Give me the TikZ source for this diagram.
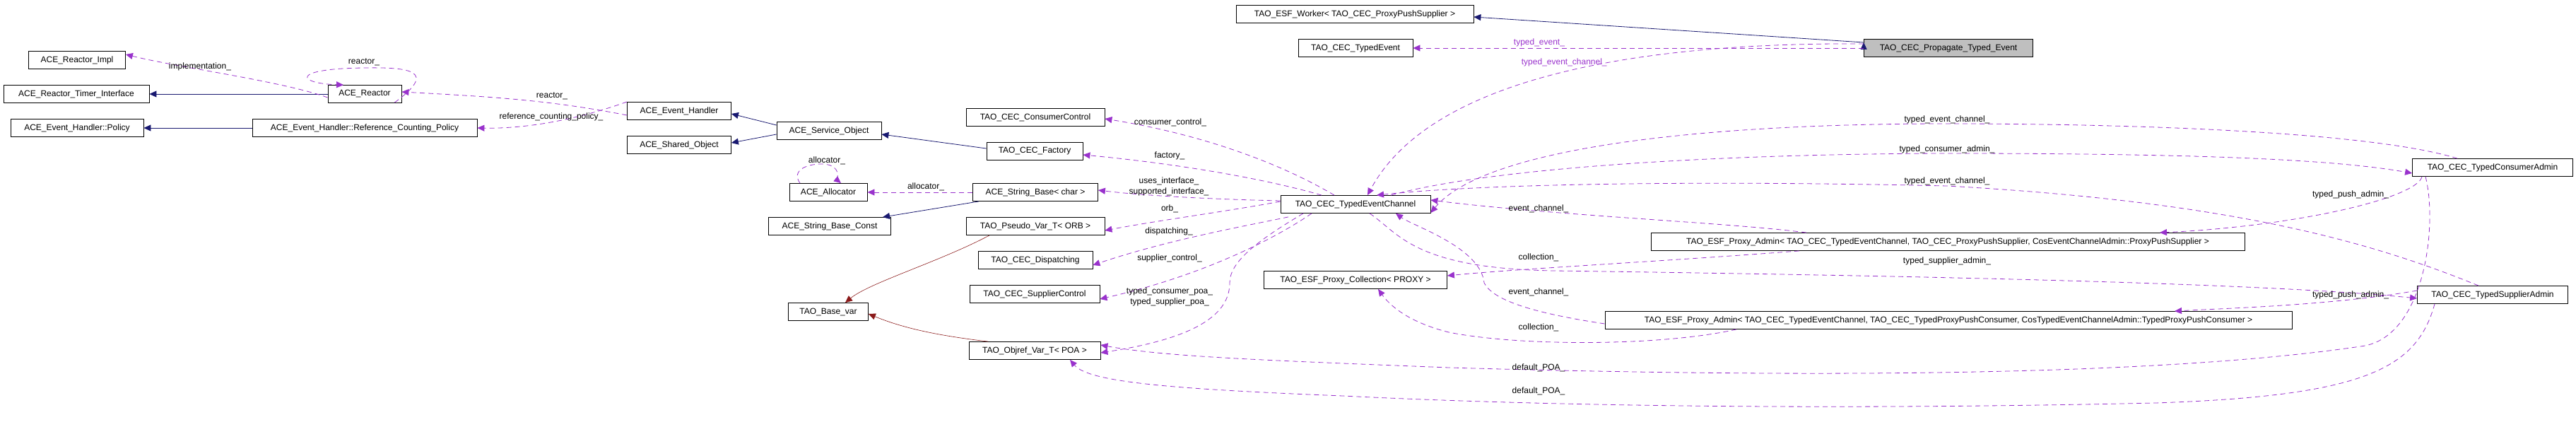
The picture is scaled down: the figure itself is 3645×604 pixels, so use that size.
\documentclass[tikz,border=0pt]{standalone}
\usepackage{fontspec}
\setmainfont{Liberation Sans}
\usetikzlibrary{arrows.meta}
\definecolor{navyc}{RGB}{25,25,112}
\definecolor{purc}{RGB}{153,50,204}
\definecolor{redc}{RGB}{139,26,26}
\begin{document}
\begin{tikzpicture}[x=1pt,y=-1pt,
  box/.style={draw,thick,inner sep=0pt,minimum height=25pt,font=\fontsize{12}{14}\selectfont},
  inh/.style={navyc,thick,-{Triangle[length=10pt,width=9pt]}},
  tmpl/.style={redc,semithick,-{Triangle[length=10pt,width=9pt]}},
  use/.style={purc,thick,dash pattern=on 7pt off 5pt,-{Triangle[length=10pt,width=9pt]}},
  lab/.style={font=\fontsize{12}{14}\selectfont,inner sep=1pt}]
\useasboundingbox (0,0) rectangle (3645,604);
% nodes
\node[box,minimum width=137pt] (impl) at (109,85) {ACE\_Reactor\_Impl};
\node[box,minimum width=206pt] (timer) at (108,133) {ACE\_Reactor\_Timer\_Interface};
\node[box,minimum width=188pt] (policy) at (109,181) {ACE\_Event\_Handler::Policy};
\node[box,minimum width=104pt] (reactor) at (516,133) {ACE\_Reactor};
\node[box,minimum width=318pt] (refc) at (516,181) {ACE\_Event\_Handler::Reference\_Counting\_Policy};
\node[box,minimum width=147pt] (evh) at (961,157) {ACE\_Event\_Handler};
\node[box,minimum width=147pt] (shared) at (961,205) {ACE\_Shared\_Object};
\node[box,minimum width=336pt] (worker) at (1917,20) {TAO\_ESF\_Worker< TAO\_CEC\_ProxyPushSupplier >};
\node[box,minimum width=162pt] (tev) at (1918,68) {TAO\_CEC\_TypedEvent};
\node[box,minimum width=239pt,fill={rgb,255:red,191;green,191;blue,191}] (prop) at (2757,68) {TAO\_CEC\_Propagate\_Typed\_Event};
\node[box,minimum width=148pt] (svc) at (1173,185) {ACE\_Service\_Object};
\node[box,minimum width=196pt] (cctl) at (1465,166) {TAO\_CEC\_ConsumerControl};
\node[box,minimum width=136pt] (fact) at (1464,214) {TAO\_CEC\_Factory};
\node[box,minimum width=110pt] (alloc) at (1172,272) {ACE\_Allocator};
\node[box,minimum width=177pt] (sb) at (1465,272) {ACE\_String\_Base< char >};
\node[box,minimum width=212pt] (tec) at (1918,289) {TAO\_CEC\_TypedEventChannel};
\node[box,minimum width=173pt] (sbc) at (1174,320) {ACE\_String\_Base\_Const};
\node[box,minimum width=196pt] (pseudo) at (1465,320) {TAO\_Pseudo\_Var\_T< ORB >};
\node[box,minimum width=162pt] (disp) at (1465,368) {TAO\_CEC\_Dispatching};
\node[box,minimum width=184pt] (sctl) at (1464,416) {TAO\_CEC\_SupplierControl};
\node[box,minimum width=113pt] (basevar) at (1172,441) {TAO\_Base\_var};
\node[box,minimum width=186pt] (objref) at (1464,496) {TAO\_Objref\_Var\_T< POA >};
\node[box,minimum width=259pt] (coll) at (1918,396) {TAO\_ESF\_Proxy\_Collection< PROXY >};
\node[box,minimum width=227pt] (cadm) at (3527,237) {TAO\_CEC\_TypedConsumerAdmin};
\node[box,minimum width=213pt] (sadm) at (3527,417) {TAO\_CEC\_TypedSupplierAdmin};
\node[box,minimum width=840pt] (pa1) at (2756,342) {TAO\_ESF\_Proxy\_Admin< TAO\_CEC\_TypedEventChannel, TAO\_CEC\_ProxyPushSupplier, CosEventChannelAdmin::ProxyPushSupplier >};
\node[box,minimum width=972pt] (pa2) at (2757,453) {TAO\_ESF\_Proxy\_Admin< TAO\_CEC\_TypedEventChannel, TAO\_CEC\_TypedProxyPushConsumer, CosTypedEventChannelAdmin::TypedProxyPushConsumer >};
% inheritance
\draw[inh] (prop.west) ++(0,-8) coordinate (p1);
\draw[inh] (p1) -- ([yshift=-4pt]worker.east);
\draw[inh] (reactor.west) -- (timer.east);
\draw[inh] (refc.west) -- (policy.east);
\draw[inh] ([yshift=8pt]svc.west) -- ([yshift=-4pt]evh.east);
\draw[inh] ([yshift=-5pt]svc.west) -- ([yshift=3pt]shared.east);
\draw[inh] ([yshift=4pt]fact.west) -- ([xshift=0pt,yshift=-5pt]svc.east);
\draw[inh] ([xshift=-80pt]sb.south) -- ([xshift=75pt]sbc.north);
% template
\draw[tmpl] ([xshift=-65pt]pseudo.south) .. controls (1330,370) and (1230,400) .. ([xshift=24pt]basevar.north);
\draw[tmpl] ([xshift=-66pt]objref.north) .. controls (1330,475) and (1280,465) .. ([yshift=-3pt]basevar.east);
% usage
\draw[use] (prop.west) -- (tev.east) node[lab,pos=0.72,above=1pt] {typed\_event\_};
\draw[use] ([yshift=6pt]prop.west) .. controls (2350,60) and (2030,100) .. ([xshift=17pt]tec.north) node[lab,pos=0.42,left=2pt] {typed\_event\_channel\_};
\node[lab] at (2177,99) {};
\draw[use] ([yshift=-5pt]reactor.west) .. controls (400,115) and (250,95) .. ([yshift=8pt]impl.east);
\node[lab] at (283,94) {implementation\_};
\draw[use] ([yshift=-12pt,xshift=-10pt]reactor.east) .. controls (620,100) and (580,95) .. (516,96) .. controls (410,97) and (420,118) .. ([xshift=-30pt]reactor.north);
\node[lab] at (515,88) {reactor\_};
\draw[use] ([yshift=-6pt]evh.west) .. controls (780,142) and (700,137) .. ([yshift=3pt]reactor.east);
\node[lab] at (781,136) {reactor\_};
\draw[use] ([yshift=13pt]evh.west) .. controls (800,175) and (730,182) .. (refc.east);
\node[lab] at (780,165) {reference\_counting\_policy\_};
\draw[use] ([xshift=-40pt]alloc.north) .. controls (1115,235) and (1160,228) .. (1175,234) .. controls (1190,240) and (1185,255) .. ([xshift=18pt]alloc.north);
\node[lab] at (1170,227) {allocator\_};
\draw[use] (sb.west) -- (alloc.east);
\node[lab] at (1310,264) {allocator\_};
\draw[use] ([xshift=-30pt]tec.north) .. controls (1810,230) and (1700,190) .. ([yshift=-2pt]cctl.east);
\node[lab] at (1656,173) {consumer\_control\_};
\draw[use] ([xshift=-48pt]tec.north) .. controls (1780,250) and (1650,230) .. ([yshift=-5pt]fact.east);
\node[lab] at (1655,220) {factory\_};
\draw[use] ([yshift=5pt]tec.west) .. controls (1720,282) and (1620,277) .. ([yshift=3pt]sb.east);
\node[lab] at (1654,256) {uses\_interface\_};
\node[lab] at (1654,271) {supported\_interface\_};
\draw[use] ([yshift=4pt]tec.west) .. controls (1730,300) and (1650,310) .. ([yshift=-6pt]pseudo.east);
\node[lab] at (1655,295) {orb\_};
\draw[use] ([xshift=-95pt,yshift=-5pt]tec.south) .. controls (1760,320) and (1650,340) .. ([yshift=-7pt]disp.east);
\node[lab] at (1654,327) {dispatching\_};
\draw[use] ([xshift=-62pt]tec.south) .. controls (1800,340) and (1700,390) .. ([yshift=-7pt]sctl.east);
\node[lab] at (1655,365) {supplier\_control\_};
\draw[use] ([xshift=-74pt]tec.south) .. controls (1780,340) and (1740,370) .. (1740,400) .. controls (1740,450) and (1680,480) .. ([yshift=-3pt]objref.east);
\node[lab] at (1655,412) {typed\_consumer\_poa\_};
\node[lab] at (1655,427) {typed\_supplier\_poa\_};
\draw[use] ([xshift=-95pt]cadm.south) .. controls (3450,320) and (3430,480) .. (3340,490) .. controls (3000,540) and (2400,530) .. (2050,520) .. controls (1800,510) and (1650,505) .. ([yshift=8pt]objref.east);
\node[lab] at (2177,520) {default\_POA\_};
\draw[use] ([xshift=-82pt]sadm.south) .. controls (3420,520) and (3350,560) .. (3050,570) .. controls (2600,580) and (2200,575) .. (1900,560) .. controls (1650,550) and (1540,540) .. ([xshift=50pt]objref.south);
\node[lab] at (2177,553) {default\_POA\_};
\draw[use] ([xshift=-50pt]cadm.north) .. controls (3350,185) and (3000,175) .. (2755,175) .. controls (2400,175) and (2100,210) .. ([yshift=-12pt]tec.east);
\node[lab] at (2755,169) {typed\_event\_channel\_};
\draw[use] ([xshift=50pt]tec.north) .. controls (2100,240) and (2400,218) .. (2755,217) .. controls (3100,217) and (3300,225) .. ([yshift=-8pt]cadm.west);
\node[lab] at (2755,211) {typed\_consumer\_admin\_};
\draw[use] ([xshift=-20pt]sadm.north) .. controls (3350,340) and (3150,285) .. (2755,263) .. controls (2400,255) and (2100,260) .. ([xshift=30pt]tec.north);
\node[lab] at (2755,256) {typed\_event\_channel\_};
\draw[use] ([xshift=-200pt]pa1.north) .. controls (2450,315) and (2200,305) .. ([yshift=6pt]tec.east);
\node[lab] at (2177,295) {event\_channel\_};
\draw[use] ([xshift=-100pt]cadm.south) .. controls (3420,280) and (3250,320) .. ([xshift=300pt]pa1.north);
\node[lab] at (3326,275) {typed\_push\_admin\_};
\draw[use] ([xshift=-210pt]pa1.south) .. controls (2350,370) and (2150,380) .. ([yshift=6pt]coll.east);
\node[lab] at (2177,364) {collection\_};
\draw[use] ([xshift=20pt]tec.south) .. controls (1980,330) and (2000,380) .. (2200,383) .. controls (2700,390) and (3200,400) .. ([yshift=-5pt]sadm.west);
\node[lab] at (2755,369) {typed\_supplier\_admin\_};
\draw[use] ([yshift=6pt]sadm.west) .. controls (3300,432) and (3150,436) .. ([xshift=320pt]pa2.north);
\node[lab] at (3326,417) {typed\_push\_admin\_};
\draw[use] ([yshift=-5pt]pa2.west) .. controls (2150,440) and (2110,420) .. (2100,400) .. controls (2095,350) and (2000,320) .. ([xshift=57pt]tec.south);
\node[lab] at (2177,413) {event\_channel\_};
\draw[use] ([xshift=-300pt]pa2.south) .. controls (2350,490) and (2150,490) .. (2050,470) .. controls (1990,455) and (1965,430) .. ([xshift=32pt]coll.south);
\node[lab] at (2177,463) {collection\_};
\end{tikzpicture}
\end{document}
